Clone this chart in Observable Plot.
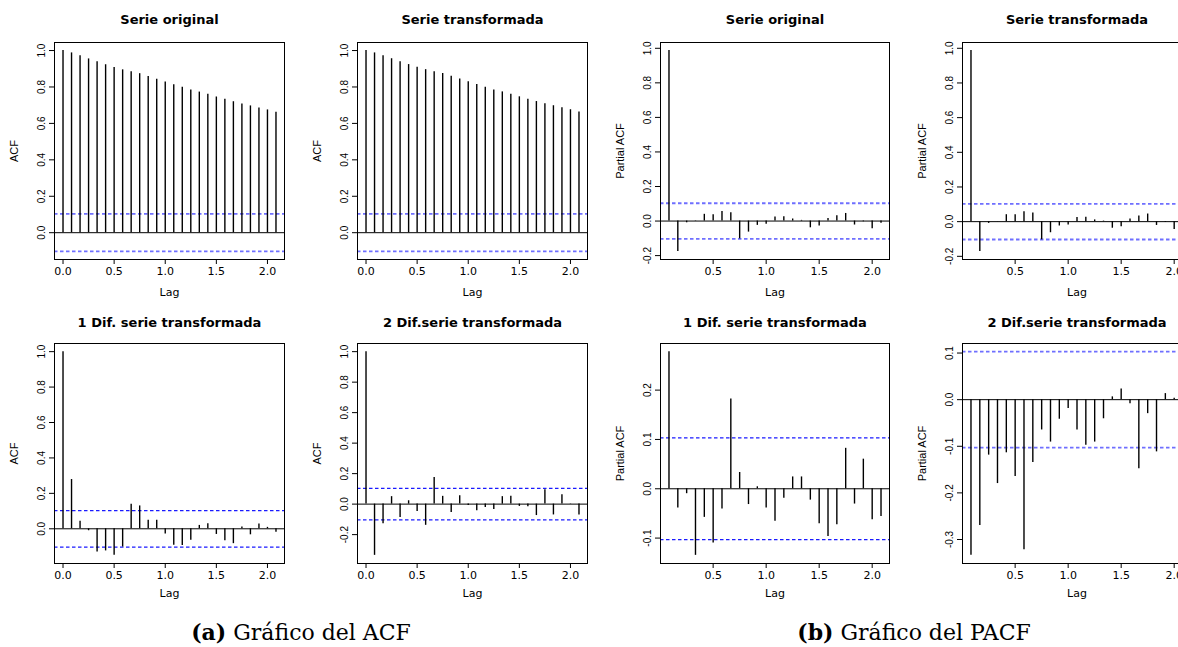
<!DOCTYPE html>
<html><head><meta charset="utf-8">
<script src="https://cdn.jsdelivr.net/npm/d3@7"></script>
<script src="https://cdn.jsdelivr.net/npm/@observablehq/plot@0.6"></script>
<style>
body{margin:0;background:#fff;overflow:hidden}
#wrap{position:relative;width:1178px;height:647px;overflow:hidden;background:#fff}
.panel{position:absolute}
.cap{position:absolute;top:621px;font-family:"DejaVu Serif",serif;font-size:22px;line-height:22px;color:#000;white-space:nowrap;transform:translateX(-50%)}
</style></head><body><div id="wrap"></div>
<script>
// Lags in months (plotted as years = months/12)
const lagMonthsACF = [0,1,2,3,4,5,6,7,8,9,10,11,12,13,14,15,16,17,18,19,20,21,22,23,24,25];
const lagMonthsPACF = [1,2,3,4,5,6,7,8,9,10,11,12,13,14,15,16,17,18,19,20,21,22,23,24,25];

const acfOriginal = [1.0,0.987,0.971,0.954,0.938,0.922,0.907,0.894,0.883,0.873,0.858,0.843,0.827,0.812,0.798,0.783,0.772,0.760,0.745,0.732,0.719,0.707,0.696,0.685,0.674,0.661];
const acfTransformada = [1.0,0.987,0.971,0.955,0.939,0.923,0.908,0.895,0.884,0.874,0.859,0.844,0.828,0.813,0.799,0.784,0.773,0.760,0.746,0.733,0.720,0.708,0.697,0.686,0.675,0.662];
const acfDif1 = [1.0,0.278,0.042,-0.011,-0.131,-0.125,-0.150,-0.103,0.139,0.129,0.048,0.048,-0.029,-0.093,-0.095,-0.065,0.019,0.029,-0.032,-0.068,-0.084,0.010,-0.034,0.027,0.008,-0.019];
const acfDif2 = [1.0,-0.336,-0.128,0.049,-0.088,0.022,-0.049,-0.139,0.174,0.051,-0.055,0.055,-0.009,-0.044,-0.022,-0.035,0.049,0.051,-0.015,-0.018,-0.075,0.095,-0.071,0.062,-0.002,-0.071];

const pacfOriginal = [0.987,-0.176,-0.010,0.002,0.039,0.037,0.056,0.048,-0.103,-0.064,-0.025,-0.019,0.023,0.025,0.012,0.004,-0.039,-0.029,0.015,0.031,0.044,-0.023,-0.004,-0.044,-0.013];
const pacfTransformada = [0.987,-0.172,-0.010,0.001,0.040,0.040,0.057,0.050,-0.105,-0.064,-0.025,-0.020,0.024,0.026,0.010,0.003,-0.038,-0.030,0.015,0.032,0.044,-0.022,-0.004,-0.045,-0.014];
const pacfDif1 = [0.278,-0.039,-0.010,-0.135,-0.058,-0.110,-0.041,0.182,0.033,-0.032,0.004,-0.039,-0.066,-0.019,0.024,0.024,-0.023,-0.071,-0.097,-0.073,0.082,-0.031,0.060,-0.063,-0.056];
const pacfDif2 = [-0.334,-0.270,-0.119,-0.180,-0.114,-0.165,-0.322,-0.135,-0.065,-0.091,-0.042,-0.019,-0.065,-0.098,-0.091,-0.041,0.006,0.023,-0.009,-0.148,-0.030,-0.112,0.013,0.003,-0.020];

const ciBound = 0.103;

const panelTitles = ["Serie original","Serie transformada","Serie original","Serie transformada",
  "1 Dif. serie transformada","2 Dif.serie transformada","1 Dif. serie transformada","2 Dif.serie transformada"];
const yLabels = ["ACF","ACF","Partial ACF","Partial ACF","ACF","ACF","Partial ACF","Partial ACF"];
const xTickLabelsACF = [0,0.5,1,1.5,2];
const xTickLabelsPACF = [0.5,1,1.5,2];
const yTickSets = [
  [0,0.2,0.4,0.6,0.8,1.0],
  [0,0.2,0.4,0.6,0.8,1.0],
  [-0.2,0,0.2,0.4,0.6,0.8,1.0],
  [-0.2,0,0.2,0.4,0.6,0.8,1.0],
  [0,0.2,0.4,0.6,0.8,1.0],
  [-0.2,0,0.2,0.4,0.6,0.8,1.0],
  [-0.1,0,0.1,0.2],
  [-0.3,-0.2,-0.1,0,0.1]
];
const captionA = "Gráfico del ACF";
const captionB = "Gráfico del PACF";

// layout
const colLeft = [54, 357, 660, 962];
const colWidth = [230, 230, 229, 229];
const rows = [
  {svgTop: 0, frameTop: 42, frameBottom: 259, lagDy: 33, titleDy: -23, height: 305},
  {svgTop: 300, frameTop: 343, frameBottom: 563, lagDy: 30, titleDy: -21, height: 303}
];
const ML = 54, MR = 10;
// confidence-line look per panel (soft = light, thicker rendering)
const softCI = [true, true, true, true, false, false, false, true];

const panels = [
  {vals: acfOriginal, lags: lagMonthsACF, xt: xTickLabelsACF},
  {vals: acfTransformada, lags: lagMonthsACF, xt: xTickLabelsACF},
  {vals: pacfOriginal, lags: lagMonthsPACF, xt: xTickLabelsPACF},
  {vals: pacfTransformada, lags: lagMonthsPACF, xt: xTickLabelsPACF},
  {vals: acfDif1, lags: lagMonthsACF, xt: xTickLabelsACF},
  {vals: acfDif2, lags: lagMonthsACF, xt: xTickLabelsACF},
  {vals: pacfDif1, lags: lagMonthsPACF, xt: xTickLabelsPACF},
  {vals: pacfDif2, lags: lagMonthsPACF, xt: xTickLabelsPACF}
];

const wrap = document.getElementById("wrap");
const fmt = d => d.toFixed(1);

panels.forEach((p, i) => {
  const r = rows[Math.floor(i / 4)];
  const c = i % 4;
  const data = p.vals.map((v, k) => ({lag: p.lags[k] / 12, v}));
  const ye = d3.extent([...p.vals, ciBound, -ciBound]);
  const ypad = (ye[1] - ye[0]) * 0.04;
  const xe = d3.extent(data, d => d.lag);
  const xpad = (xe[1] - xe[0]) * 0.04;
  const marginTop = r.frameTop - r.svgTop;
  const marginBottom = r.height - (r.frameBottom - r.svgTop);
  const ciStroke = softCI[i] ? "#6f6fff" : "#1a1aff";
  const ciWidth = softCI[i] ? 1.8 : 1.2;
  const chart = Plot.plot({
    width: ML + colWidth[c] + MR,
    height: r.height,
    marginLeft: ML, marginRight: MR, marginTop, marginBottom,
    x: {domain: [xe[0] - xpad, xe[1] + xpad]},
    y: {domain: [ye[0] - ypad, ye[1] + ypad]},
    style: {fontFamily: "DejaVu Sans", fontSize: "11px", background: "white", color: "#000", overflow: "visible"},
    marks: [
      Plot.ruleY([ciBound, -ciBound], {stroke: ciStroke, strokeDasharray: "3.5,2.5", strokeWidth: ciWidth}),
      Plot.ruleY([0], {stroke: "#000", strokeWidth: 1}),
      Plot.ruleX(data, {x: "lag", y1: 0, y2: "v", stroke: "#000", strokeWidth: 1.4}),
      Plot.frame({stroke: "#000", strokeWidth: 1}),
      Plot.axisX({ticks: p.xt, tickSize: 5, tickPadding: 3, tickFormat: fmt, label: null, fontFamily: "DejaVu Sans", fontSize: 11}),
      Plot.axisY({ticks: yTickSets[i], tickSize: 5, tickPadding: 5, tickRotate: -90, tickFormat: fmt, label: null, fontFamily: "Liberation Sans", fontSize: 10}),
      Plot.text([panelTitles[i]], {text: d => d, frameAnchor: "top", lineAnchor: "middle", textAnchor: "middle", dy: r.titleDy, fontWeight: "bold", fontSize: 13, fontFamily: "DejaVu Sans"}),
      Plot.text(["Lag"], {text: d => d, frameAnchor: "bottom", lineAnchor: "middle", textAnchor: "middle", dy: r.lagDy, fontSize: 11, fontFamily: "DejaVu Sans"}),
      Plot.text([yLabels[i]], {text: d => d, frameAnchor: "left", textAnchor: "middle", lineAnchor: "middle", dx: -40, rotate: -90, fontSize: 11, fontFamily: "Liberation Sans"})
    ]
  });
  chart.classList.add("panel");
  chart.style.left = (colLeft[c] - ML) + "px";
  chart.style.top = r.svgTop + "px";
  wrap.appendChild(chart);
});

const capA = document.createElement("div");
capA.className = "cap"; capA.style.left = "301px";
capA.innerHTML = "<b>(a)</b> " + captionA;
wrap.appendChild(capA);
const capB = document.createElement("div");
capB.className = "cap"; capB.style.left = "914px";
capB.innerHTML = "<b>(b)</b> " + captionB;
wrap.appendChild(capB);
</script></body></html>
